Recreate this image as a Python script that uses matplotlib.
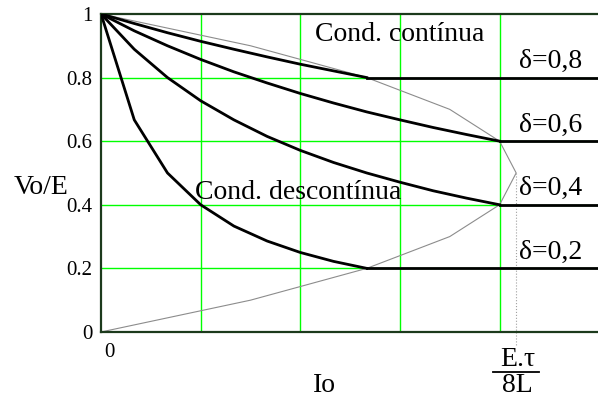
import matplotlib
matplotlib.use("Agg")
import matplotlib.pyplot as plt
from matplotlib.lines import Line2D

plt.rcParams["font.family"] = ["Liberation Serif", "DejaVu Serif"]

# duty cycles and load current (normalised so that E.tau/8L = 1)
duties = [0.2, 0.4, 0.6, 0.8]
io_step = [0, 0.08, 0.16, 0.24, 0.32, 0.40, 0.48, 0.56, 0.64, 0.72, 0.80, 0.88, 0.96]

# Vo/E in discontinuous conduction, one list per duty cycle
vo_d02 = [1.0, 0.667, 0.5, 0.4, 0.333, 0.286, 0.25, 0.222, 0.2]
vo_d04 = [1.0, 0.889, 0.8, 0.727, 0.667, 0.615, 0.571, 0.533, 0.5, 0.471, 0.444, 0.421, 0.4]
vo_d06 = [1.0, 0.947, 0.9, 0.857, 0.818, 0.783, 0.75, 0.72, 0.692, 0.667, 0.643, 0.621, 0.6]
vo_d08 = [1.0, 0.970, 0.941, 0.914, 0.889, 0.865, 0.842, 0.821, 0.8]

# limit between continuous and discontinuous conduction
io_limit = [0, 0.36, 0.64, 0.84, 0.96, 1.0, 0.96, 0.84, 0.64, 0.36, 0]
vo_limit = [0, 0.1, 0.2, 0.3, 0.4, 0.5, 0.6, 0.7, 0.8, 0.9, 1.0]

x_grid = [0.24, 0.48, 0.72, 0.96]
y_ticks = [0, 0.2, 0.4, 0.6, 0.8, 1]
y_ticklabels = ["0", "0.2", "0.4", "0.6", "0.8", "1"]
io_max = 1.2

fig = plt.figure(figsize=(5.98, 3.99), dpi=100)
ax = fig.add_axes([0.169, 0.168, 0.833, 0.797])
ax.set_xlim(0, io_max)
ax.set_ylim(0, 1)

green = "#00ff00"
for x in x_grid:
    ax.axvline(x, color=green, lw=1.0, zorder=1)
for y in y_ticks[1:-1]:
    ax.axhline(y, color=green, lw=1.0, zorder=1)

ax.plot(io_limit, vo_limit, color="#8c8c8c", lw=0.8, zorder=2)
ax.plot([1.0, 1.0], [0.5, -0.04], color="#a0a0a0", lw=0.8, ls=":", clip_on=False, zorder=2)

for vals in (vo_d02, vo_d04, vo_d06, vo_d08):
    ax.plot(io_step[:len(vals)], vals, color="black", lw=2.0, zorder=3)

# continuous conduction: Vo/E = delta from the limit onwards
for d, vals in zip(duties, (vo_d02, vo_d04, vo_d06, vo_d08)):
    ax.plot([io_step[len(vals) - 1], io_max], [d, d], color="black", lw=2.0, zorder=3)
    ax.text(1.006, d + 0.03, f"δ=0,{int(round(d * 10))}", fontsize=20,
            ha="left", va="baseline", zorder=4)

ax.text(0.72, 0.934, "Cond. contínua", fontsize=20, ha="center", va="center")
ax.text(0.475, 0.44, "Cond. descontínua", fontsize=20, ha="center", va="center")

ax.spines["right"].set_visible(False)
for side in ("left", "bottom", "top"):
    ax.spines[side].set_color("#1c3a1c")
    ax.spines[side].set_linewidth(1.6)

ax.set_yticks(y_ticks)
ax.set_yticklabels(y_ticklabels, fontsize=15)
ax.set_xticks([0.02])
ax.set_xticklabels(["0"], fontsize=15)
ax.tick_params(length=0, pad=6)
ax.tick_params(axis="x", pad=8)

fig.text(0.069, 0.531, "Vo/E", fontsize=20, ha="center", va="center")
fig.text(0.543, 0.035, "Io", fontsize=20, ha="center", va="center")
fig.text(0.865, 0.10, "E.τ", fontsize=20, ha="center", va="center")
fig.text(0.865, 0.033, "8L", fontsize=20, ha="center", va="center")
fig.add_artist(Line2D([0.824, 0.901], [0.068, 0.068], color="black", lw=1.3))

fig.savefig("out.png", dpi=100)
